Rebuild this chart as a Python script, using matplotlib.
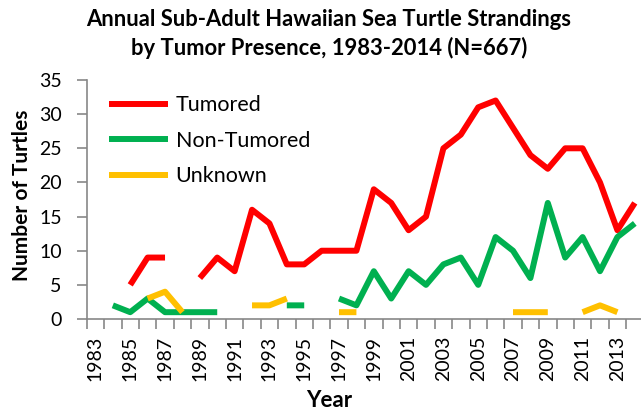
import numpy as np
import matplotlib
matplotlib.use("Agg")
import matplotlib.pyplot as plt

plt.rcParams['font.family'] = ['Lato', 'DejaVu Sans']

#Data (nan = no point that year)
years = list(range(1983, 2015))
nan = np.nan
tumored = [nan, nan, 5, 9, 9, nan, 6, 9, 7, 16, 14, 8, 8, 10, 10, 10,
           19, 17, 13, 15, 25, 27, 31, 32, 28, 24, 22, 25, 25, 20, 13, 17]
non_tumored = [nan, 2, 1, 3, 1, 1, 1, 1, nan, nan, nan, 2, 2, nan, 3, 2,
               7, 3, 7, 5, 8, 9, 5, 12, 10, 6, 17, 9, 12, 7, 12, 14]
unknown = [nan, nan, nan, 3, 4, 1, nan, nan, nan, 2, 2, 3, nan, nan, 1, 1,
           nan, nan, nan, nan, nan, nan, nan, nan, 1, 1, 1, nan, 1, 2, 1, nan]

title = "Annual Sub-Adult Hawaiian Sea Turtle Strandings\nby Tumor Presence, 1983-2014 (N=667)"

fig = plt.figure(figsize=(6.41, 4.15), dpi=100)
ax = fig.add_axes([0.1353, 0.2313, 0.8686, 0.5759])

x = np.arange(len(years))
lw = 4.3
ax.plot(x, tumored, color='#FF0000', lw=lw, label='Tumored', solid_capstyle='butt')
ax.plot(x, non_tumored, color='#00B050', lw=lw, label='Non-Tumored', solid_capstyle='butt')
ax.plot(x, unknown, color='#FFC000', lw=lw, label='Unknown', solid_capstyle='butt')

ax.set_xlim(-0.5, len(years) - 0.5)
ax.set_ylim(0, 35)
ax.set_yticks(range(0, 36, 5))

#labels on every other year, tick marks between categories
ax.set_xticks(x[::2])
ax.set_xticklabels([str(y) for y in years[::2]], rotation=90)
ax.set_xticks(np.arange(len(years) + 1) - 0.5, minor=True)
ax.tick_params(axis='x', which='major', length=0, pad=12, labelsize=14)
ax.tick_params(axis='x', which='minor', length=7, width=1.2, color='#878787')
ax.tick_params(axis='y', length=7, width=1.2, color='#878787', pad=11, labelsize=14)

for s in ['top', 'right']:
    ax.spines[s].set_visible(False)
for s in ['left', 'bottom']:
    ax.spines[s].set_color('#878787')
    ax.spines[s].set_linewidth(1.2)

fig.text(21.7 / 641, 0.53, 'Number of Turtles', fontsize=15, fontweight='bold',
         rotation=90, ha='center', va='center')
fig.text(0.513, 0.034, 'Year', fontsize=16, fontweight='bold', ha='center', va='center')
fig.text(0.513, 0.918, title, fontsize=15.8, fontweight='bold', ha='center', va='center',
         linespacing=1.38)

ax.legend(loc='upper left', bbox_to_anchor=(0.006, 1.017), frameon=False, fontsize=15.5,
          handlelength=2.7, handletextpad=0.37, labelspacing=0.72)

fig.savefig('out.png', dpi=100)
